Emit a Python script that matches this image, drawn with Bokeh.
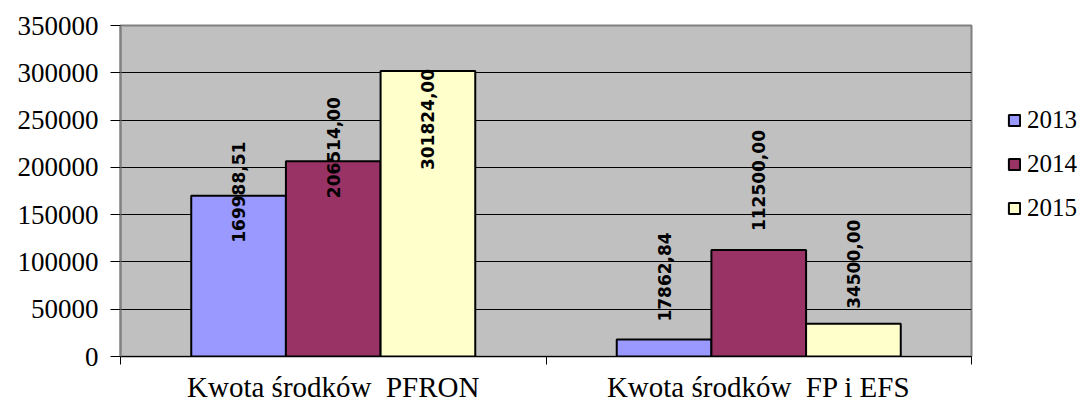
from bokeh.plotting import figure
from bokeh.layouts import row
from bokeh.models import Range1d, FixedTicker, NumeralTickFormatter, Legend, LegendItem, ColumnDataSource
from bokeh.core.properties import value
from bokeh.embed import file_html
from bokeh.resources import INLINE

categories = ["Kwota środków \u00a0PFRON", "Kwota środków \u00a0FP i EFS"]
years = ["2013", "2014", "2015"]
v2013 = [169988.51, 17862.84]
v2014 = [206514.00, 112500.00]
v2015 = [301824.00, 34500.00]
label_text_2013 = ["169988,51", "17862,84"]
label_text_2014 = ["206514,00", "112500,00"]
label_text_2015 = ["301824,00", "34500,00"]
y_ticks = [0, 50000, 100000, 150000, 200000, 250000, 300000, 350000]

colors = ["#9999FF", "#993366", "#FFFFCC"]
dodge = [-0.2225, 0.0, 0.2225]
bar_w = 0.2225
# screen offsets of the value labels (px, positive = down), as placed in the original
label_offsets = [[47, -18], [37, -19], [99, -15]]

p = figure(width=981, height=405, x_range=Range1d(0, 2), y_range=Range1d(0, 350000),
           output_backend="svg", toolbar_location=None,
           min_border_left=120, min_border_right=10, min_border_top=25, min_border_bottom=47)

p.background_fill_color = "#C0C0C0"
p.border_fill_color = "white"
p.outline_line_color = "#808080"
p.outline_line_width = 2

series = [v2013, v2014, v2015]
texts = [label_text_2013, label_text_2014, label_text_2015]
for k, vals in enumerate(series):
    xs = [i + 0.5 + dodge[k] for i in range(len(categories))]
    src = ColumnDataSource(dict(x=xs, top=vals, txt=texts[k], off=label_offsets[k]))
    p.vbar(x="x", top="top", width=bar_w, bottom=0, source=src,
           fill_color=colors[k], line_color="black", line_width=2)
    p.text(x="x", y="top", text="txt", y_offset="off", source=src, angle=1.5708,
           text_align="left", text_baseline="middle",
           text_font=value("DejaVu Sans"), text_font_style="bold",
           text_font_size="17px", text_color="black")

# y axis
p.yaxis.ticker = FixedTicker(ticks=y_ticks)
p.yaxis.formatter = NumeralTickFormatter(format="0")
p.yaxis.axis_line_color = "#808080"
p.yaxis.axis_line_width = 2
p.yaxis.major_tick_out = 10
p.yaxis.major_tick_in = 0
p.yaxis.minor_tick_line_color = None
p.yaxis.major_label_text_font = "Liberation Serif"
p.yaxis.major_label_text_font_size = "27px"
p.yaxis.major_label_standoff = 12
p.yaxis.major_label_text_color = "black"

# x axis
p.xaxis.ticker = FixedTicker(ticks=[i + 0.5 for i in range(len(categories))],
                             minor_ticks=[float(i) for i in range(len(categories) + 1)])
p.xaxis.major_label_overrides = {i + 0.5: c for i, c in enumerate(categories)}
p.xaxis.major_tick_line_color = None
p.xaxis.major_tick_out = 8
p.xaxis.minor_tick_out = 8
p.xaxis.minor_tick_in = 0
p.xaxis.minor_tick_line_color = "black"
p.xaxis.axis_line_color = "black"
p.xaxis.axis_line_width = 1
p.xaxis.major_label_text_font = "Liberation Serif"
p.xaxis.major_label_text_font_size = "29px"
p.xaxis.major_label_standoff = 6
p.xaxis.major_label_text_color = "black"

p.xgrid.grid_line_color = None
p.ygrid.ticker = FixedTicker(ticks=y_ticks)
p.ygrid.grid_line_color = "black"
p.ygrid.grid_line_width = 1

# legend in a small side figure (helper renderers are hidden; only their legend swatches show)
lg = figure(width=100, height=405, x_range=Range1d(0, 1), y_range=Range1d(0, 1),
            output_backend="svg", toolbar_location=None,
            x_axis_type=None, y_axis_type=None,
            min_border_left=0, min_border_right=0, min_border_top=0, min_border_bottom=0)
lg.outline_line_color = None
lg.background_fill_color = "white"
lg.border_fill_color = "white"
lg.xgrid.grid_line_color = None
lg.ygrid.grid_line_color = None
dummies = []
for k in range(len(years)):
    r = lg.vbar(x=[-50], top=[-50], bottom=-60, width=0.1, fill_color=colors[k],
                line_color="black", line_width=2)
    r.visible = False
    dummies.append(r)

legend = Legend(items=[LegendItem(label=years[k], renderers=[dummies[k]]) for k in range(3)],
                location=(26, 133), orientation="vertical")
legend.glyph_width = 14
legend.glyph_height = 14
legend.label_height = 30
legend.spacing = 14
legend.padding = 0
legend.margin = 0
legend.label_standoff = 6
legend.border_line_color = None
legend.background_fill_alpha = 0
legend.inactive_fill_alpha = 0
legend.label_text_font = "Liberation Serif"
legend.label_text_font_size = "25px"
legend.label_text_color = "black"
lg.add_layout(legend, "center")

layout = row(p, lg)
open("out.html", "w").write(file_html(layout, INLINE))
